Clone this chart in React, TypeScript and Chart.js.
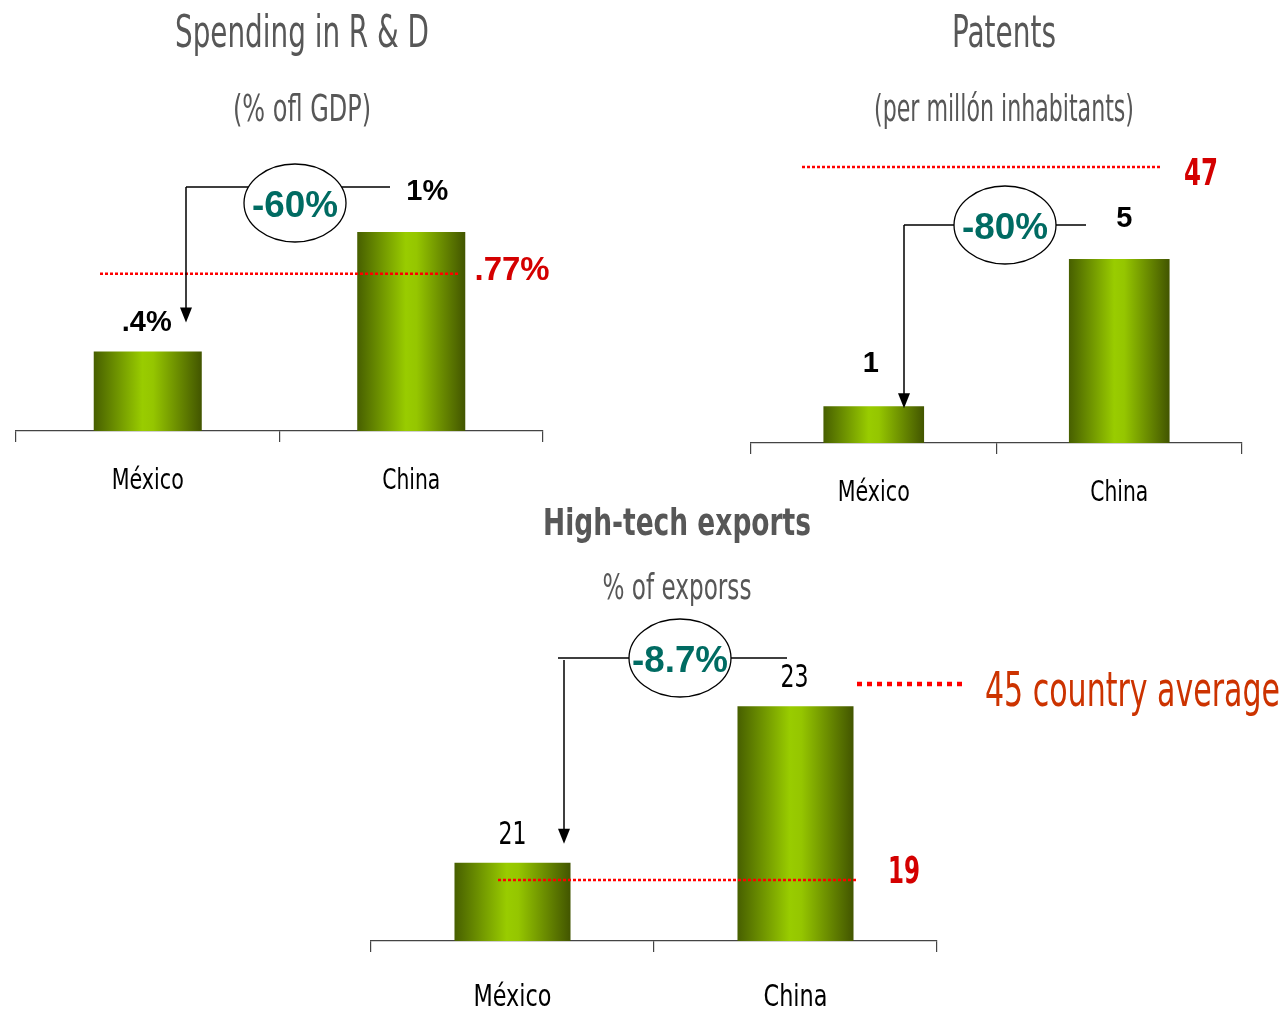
import React, { useEffect, useRef } from "react";
import { Chart, registerables } from "chart.js";

Chart.register(...registerables);

// ---------------- data ----------------
const categories = ["México", "China"];

const rdTitle = "Spending in R & D";
const rdSubtitle = "(% ofl GDP)";
const rdValues = [0.4, 1];
const rdValueLabels = [".4%", "1%"];
const rdGapLabel = "-60%";
const rdAverageLabel = ".77%";
const rdAverageAxisPos = 0.79;

const patentTitle = "Patents";
const patentSubtitle = "(per millón inhabitants)";
const patentValues = [1, 5];
const patentValueLabels = ["1", "5"];
const patentGapLabel = "-80%";
const patentAverageLabel = "47";
const patentAverageAxisPos = 7.5; // off the drawn scale: shown at the top of the panel

const exportTitle = "High-tech exports";
const exportSubtitle = "% of exporss";
const exportValues = [21, 23];
const exportValueLabels = ["21", "23"];
const exportGapLabel = "-8.7%";
const exportAverageLabel = "19";
const exportAverageAxisPos = 20.78;
const legendLabel = "45 country average";

// ---------------- styles ----------------
const W = 1287;
const H = 1011;
const AXIS_H = 60;
const NARROW = '"Liberation Sans Narrow", "Arial Narrow", "DejaVu Sans Condensed", sans-serif';
const SANS = '"Liberation Sans", Arial, Helvetica, sans-serif';
const GREY = "#575757";
const TEAL = "#006b62";
const RED = "#d40000";
const DOT_RED = "#ff0000";

type Txt = { x: number; y: number; size: number; w?: number; bold?: boolean; family?: string; color?: string; align?: CanvasTextAlign };

type Panel = {
  values: number[];
  valueLabels: string[];
  gapLabel: string;
  avgLabel: string;
  avgPos: number;
  title: string;
  subtitle: string;
  area: { left: number; right: number; top: number; bottom: number };
  yMin: number;
  yMax: number;
  cat: { dy: number; size: number; widths: number[] };
  titleTxt: Txt;
  subTxt: Txt;
  ellipse: { cx: number; cy: number; rx: number; ry: number; size: number; w: number };
  bracket: { y: number; x0: number; x1: number; ax: number; ay0: number; tipDy: number };
  valueTxt: { size: number; bold: boolean; family: string; offsets: number[][]; widths?: number[] };
  ref: { x0: number; x1: number; lx: number; ly: number; size: number; family: string; w: number };
  legend?: { x0: number; x1: number; y: number; tx: number; ty: number; size: number; w: number };
};

const panels: Panel[] = [
  {
    values: rdValues,
    valueLabels: rdValueLabels,
    gapLabel: rdGapLabel,
    avgLabel: rdAverageLabel,
    avgPos: rdAverageAxisPos,
    title: rdTitle,
    subtitle: rdSubtitle,
    area: { left: 16, right: 543, top: 172.3, bottom: 431 },
    yMin: 0,
    yMax: 1.3,
    cat: { dy: 48, size: 28, widths: [72, 58] },
    titleTxt: { x: 302, y: 32, size: 44, w: 254 },
    subTxt: { x: 302, y: 108, size: 38, w: 138 },
    ellipse: { cx: 295, cy: 203, rx: 51, ry: 39, size: 36, w: 86 },
    bracket: { y: 187, x0: 186, x1: 390, ax: 186, ay0: 187, tipDy: -29 },
    valueTxt: { size: 29, bold: true, family: SANS, offsets: [[-1, -31], [16, -42]] },
    ref: { x0: 100, x1: 460, lx: 512, ly: 268, size: 34, family: SANS, w: 75 },
  },
  {
    values: patentValues,
    valueLabels: patentValueLabels,
    gapLabel: patentGapLabel,
    avgLabel: patentAverageLabel,
    avgPos: patentAverageAxisPos,
    title: patentTitle,
    subtitle: patentSubtitle,
    area: { left: 751, right: 1242, top: 167, bottom: 443 },
    yMin: 0,
    yMax: 7.5,
    cat: { dy: 48, size: 28, widths: [72, 58] },
    titleTxt: { x: 1004, y: 32, size: 44, w: 104 },
    subTxt: { x: 1004, y: 108, size: 38, w: 260 },
    ellipse: { cx: 1005, cy: 225, rx: 51, ry: 39, size: 36, w: 86 },
    bracket: { y: 225, x0: 904, x1: 1086, ax: 904, ay0: 225, tipDy: 2 },
    valueTxt: { size: 29, bold: true, family: SANS, offsets: [[-3, -45], [5, -42]] },
    ref: { x0: 802, x1: 1162, lx: 1201, ly: 172, size: 38, family: NARROW, w: 34 },
  },
  {
    values: exportValues,
    valueLabels: exportValueLabels,
    gapLabel: exportGapLabel,
    avgLabel: exportAverageLabel,
    avgPos: exportAverageAxisPos,
    title: exportTitle,
    subtitle: exportSubtitle,
    area: { left: 371, right: 937, top: 667, bottom: 941 },
    yMin: 20,
    yMax: 23.5,
    cat: { dy: 54, size: 31, widths: [78, 64] },
    titleTxt: { x: 677, y: 522, size: 38, w: 268, bold: true },
    subTxt: { x: 677, y: 587, size: 36, w: 149 },
    ellipse: { cx: 680, cy: 658, rx: 51, ry: 39, size: 36, w: 96 },
    bracket: { y: 658, x0: 558, x1: 787, ax: 564, ay0: 660, tipDy: -19 },
    valueTxt: { size: 32, bold: false, family: NARROW, offsets: [[0, -30], [-1, -30]], widths: [28, 28] },
    ref: { x0: 498, x1: 857, lx: 904, ly: 870, size: 37, family: NARROW, w: 32 },
    legend: { x0: 857, x1: 962, y: 684, tx: 985, ty: 690, size: 48, w: 295 },
  },
];

function drawText(ctx: CanvasRenderingContext2D, text: string, t: Txt) {
  ctx.save();
  ctx.font = `${t.bold ? "bold " : ""}${t.size}px ${t.family || NARROW}`;
  ctx.fillStyle = t.color || GREY;
  ctx.textBaseline = "middle";
  ctx.textAlign = t.align || "center";
  const w0 = ctx.measureText(text).width;
  const sx = t.w && w0 > 0 ? t.w / w0 : 1;
  ctx.translate(t.x, t.y + t.size * 0.08);
  ctx.scale(sx, 1);
  ctx.fillText(text, 0, 0);
  ctx.restore();
}

function makePlugin(p: Panel) {
  return {
    id: "annotations",
    beforeDatasetsDraw(chart: any) {
      const ctx: CanvasRenderingContext2D = chart.ctx;
      const meta = chart.getDatasetMeta(0);
      meta.data.forEach((el: any) => {
        const half = el.width / 2;
        if (!isFinite(el.x) || !isFinite(half)) return;
        const g = ctx.createLinearGradient(el.x - half, 0, el.x + half, 0);
        g.addColorStop(0, "#475f00");
        g.addColorStop(0.45, "#99cc00");
        g.addColorStop(0.55, "#95c600");
        g.addColorStop(1, "#425500");
        try {
          el.options.backgroundColor = g;
        } catch (e) {
          /* ignore */
        }
      });
    },
    afterDraw(chart: any) {
      const ctx: CanvasRenderingContext2D = chart.ctx;
      const meta = chart.getDatasetMeta(0);
      const ys = chart.scales.y;
      const xs = chart.scales.x;

      // category labels (from the category scale)
      (chart.data.labels as string[]).forEach((lab, i) => {
        drawText(ctx, lab, {
          x: xs.getPixelForTick(i),
          y: xs.top + p.cat.dy,
          size: p.cat.size,
          w: p.cat.widths[i],
          family: NARROW,
          color: "#000",
        });
      });

      // titles
      drawText(ctx, p.title, { ...p.titleTxt, color: GREY });
      drawText(ctx, p.subtitle, { ...p.subTxt, color: GREY });

      // average reference line
      const ry = ys.getPixelForValue(p.avgPos);
      ctx.save();
      ctx.strokeStyle = DOT_RED;
      ctx.lineWidth = 2.5;
      ctx.setLineDash([3, 2]);
      ctx.beginPath();
      ctx.moveTo(p.ref.x0, ry);
      ctx.lineTo(p.ref.x1, ry);
      ctx.stroke();
      ctx.restore();
      drawText(ctx, p.avgLabel, {
        x: p.ref.lx,
        y: p.ref.ly,
        size: p.ref.size,
        w: p.ref.w,
        bold: true,
        family: p.ref.family,
        color: RED,
      });

      // value labels above bars
      const bars = meta.data;
      bars.forEach((b: any, i: number) => {
        const off = p.valueTxt.offsets[i];
        drawText(ctx, p.valueLabels[i], {
          x: b.x + off[0],
          y: b.y + off[1],
          size: p.valueTxt.size,
          w: p.valueTxt.widths ? p.valueTxt.widths[i] : undefined,
          bold: p.valueTxt.bold,
          family: p.valueTxt.family,
          color: "#000",
        });
      });

      // bracket with arrow
      const e = p.ellipse;
      const br = p.bracket;
      const tipY = bars[0].y + br.tipDy;
      ctx.save();
      ctx.strokeStyle = "#000";
      ctx.lineWidth = 1.5;
      ctx.beginPath();
      ctx.moveTo(br.x0, br.y);
      ctx.lineTo(br.x1, br.y);
      ctx.moveTo(br.ax, br.ay0);
      ctx.lineTo(br.ax, tipY - 12);
      ctx.stroke();
      ctx.fillStyle = "#000";
      ctx.beginPath();
      ctx.moveTo(br.ax - 6, tipY - 15);
      ctx.lineTo(br.ax + 6, tipY - 15);
      ctx.lineTo(br.ax, tipY);
      ctx.closePath();
      ctx.fill();
      // ellipse
      ctx.beginPath();
      ctx.ellipse(e.cx, e.cy, e.rx, e.ry, 0, 0, Math.PI * 2);
      ctx.fillStyle = "#fff";
      ctx.fill();
      ctx.lineWidth = 1.3;
      ctx.strokeStyle = "#000";
      ctx.stroke();
      ctx.restore();
      drawText(ctx, p.gapLabel, {
        x: e.cx,
        y: e.cy + 1,
        size: e.size,
        w: e.w,
        bold: true,
        family: SANS,
        color: TEAL,
      });

      // legend
      if (p.legend) {
        const l = p.legend;
        ctx.save();
        ctx.strokeStyle = DOT_RED;
        ctx.lineWidth = 4.5;
        ctx.setLineDash([5, 5]);
        ctx.beginPath();
        ctx.moveTo(l.x0, l.y);
        ctx.lineTo(l.x1, l.y);
        ctx.stroke();
        ctx.restore();
        drawText(ctx, legendLabel, {
          x: l.tx,
          y: l.ty,
          size: l.size,
          w: l.w,
          family: NARROW,
          color: "#cc3300",
          align: "left",
        });
      }
    },
  };
}

function PanelChart({ p }: { p: Panel }) {
  const ref = useRef<HTMLCanvasElement | null>(null);
  useEffect(() => {
    if (!ref.current) return;
    const chart = new Chart(ref.current, {
      type: "bar",
      data: {
        labels: categories,
        datasets: [
          {
            data: p.values,
            backgroundColor: () => "#88b800",
            borderWidth: 0,
            barPercentage: 0.41,
            categoryPercentage: 1,
          },
        ],
      },
      options: {
        responsive: false,
        animation: false,
        devicePixelRatio: 1,
        layout: {
          padding: {
            left: p.area.left,
            right: W - p.area.right,
            top: p.area.top,
            bottom: H - p.area.bottom - AXIS_H,
          },
        },
        plugins: { legend: { display: false }, tooltip: { enabled: false }, title: { display: false } },
        scales: {
          x: {
            type: "category",
            offset: true,
            afterFit: (s: any) => {
              s.height = AXIS_H;
            },
            grid: {
              display: true,
              offset: true,
              drawOnChartArea: false,
              drawTicks: true,
              tickLength: 11,
              color: "#444",
              lineWidth: 1.2,
            },
            border: { display: true, color: "#444", width: 1.2 },
            ticks: { display: false },
          },
          y: {
            display: false,
            min: p.yMin,
            max: p.yMax,
          },
        },
      },
      plugins: [makePlugin(p)],
    } as any);
    return () => chart.destroy();
  }, [p]);
  return (
    <canvas
      ref={ref}
      width={W}
      height={H}
      style={{ position: "absolute", left: 0, top: 0, width: W, height: H }}
    />
  );
}

export default function App() {
  return (
    <div style={{ position: "fixed", left: 0, top: 0, width: W, height: H, background: "#fff" }}>
      {panels.map((p, i) => (
        <PanelChart key={i} p={p} />
      ))}
    </div>
  );
}
